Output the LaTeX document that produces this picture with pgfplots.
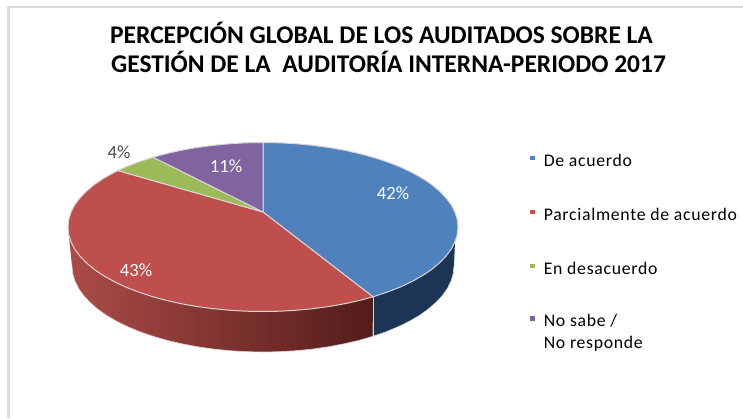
\documentclass[border=0pt]{standalone}
\usepackage{pgfplots}
\pgfplotsset{compat=1.18}
\usepackage{fontspec}
\setmainfont{Carlito}
\newfontfamily\legf[LetterSpace=4]{Carlito}
\definecolor{bl}{HTML}{4F81BD}
\definecolor{rd}{HTML}{BE4F4C}
\definecolor{gr}{HTML}{9BBB59}
\definecolor{pu}{HTML}{8064A2}
\definecolor{rim}{HTML}{DAD5D5}
\definecolor{frame}{HTML}{DCDCDC}
\definecolor{bside}{HTML}{1C3555}
\definecolor{rsa}{HTML}{AC4B47}
\definecolor{rsb}{HTML}{7D2F2D}
\definecolor{rsc}{HTML}{531C1A}
\begin{document}
\begin{tikzpicture}
\useasboundingbox (0,0) rectangle (557.25pt,313.5pt);
\begin{axis}[
  at={(0,0)}, anchor=south west,
  scale only axis, width=557.25pt, height=313.5pt,
  xmin=0, xmax=743, ymin=0, ymax=418, y dir=reverse,
  hide axis, clip=false,
  legend style={at={(rel axis cs:0.7135,0.6315)}, anchor=north west, draw=none, fill=none,
    row sep=29.8pt, column sep=6.5pt, font=\legf\fontsize{13.3}{16.5}\selectfont, inner sep=0pt,
    nodes={inner sep=0pt}},
  legend cell align=left,
]
% frame
\addplot[frame, line width=1.6pt, forget plot] coordinates {(743,7) (8.5,7) (8.5,418)};
% blue side
\addplot[fill=bside, draw=none, forget plot] coordinates {
(455,241.7)(451.4,248.9)(446.2,255.9)(439.7,262.7)(431.9,269.3)(422.7,275.5)(412.4,281.3)(400.9,286.8)(388.3,291.7)(374.9,296.2)(373,296.8)
(372.6,336.4)(385.8,331.9)(398.1,326.8)(409.3,321.3)(419.5,315.4)(428.4,309)(436.1,302.3)(442.5,295.4)(447.5,288.3)(451.1,280.9)(453.3,273.5)(454,266)} --cycle;
% red side
\addplot[left color=rsa, middle color=rsb, right color=rsc, draw=none, forget plot] coordinates {
(373,296.8)(360.5,300.2)(345.4,303.6)(329.7,306.4)(313.5,308.6)(296.9,310.2)(280,311.2)(263,311.5)(246,311.2)(229.1,310.2)(212.5,308.6)(196.3,306.4)(180.6,303.6)(165.5,300.2)(151.1,296.2)(137.7,291.7)(125.1,286.8)(113.6,281.3)(103.3,275.5)(94.1,269.3)(86.3,262.7)(79.8,255.9)(74.6,248.9)(71,241.7)(68.7,234.4)
(72,266)(72.7,273.5)(74.9,280.9)(78.5,288.3)(83.5,295.4)(89.9,302.3)(97.6,309)(106.5,315.4)(116.7,321.3)(127.9,326.8)(140.2,331.9)(153.4,336.4)(167.5,340.5)(182.3,343.9)(197.7,346.8)(213.5,349.1)(229.8,350.7)(246.3,351.7)(263,352)(279.7,351.7)(296.2,350.7)(312.5,349.1)(328.3,346.8)(343.7,343.9)(358.5,340.5)(372.6,336.4)} --cycle;
% seam
\addplot[rim, line width=0.75pt, forget plot] coordinates {(373,296.8)(373,335.5)};
% bottom rim
\addplot[rim, line width=0.5pt, forget plot] coordinates {(454,266)(453.3,273.5)(451.1,280.9)(447.5,288.3)(442.5,295.4)(436.1,302.3)(428.4,309)(419.5,315.4)(409.3,321.3)(398.1,326.8)(385.8,331.9)(372.6,336.4)(358.5,340.5)(343.7,343.9)(328.3,346.8)(312.5,349.1)(296.2,350.7)(279.7,351.7)(263,352)(246.3,351.7)(229.8,350.7)(213.5,349.1)(197.7,346.8)(182.3,343.9)(167.5,340.5)(153.4,336.4)(140.2,331.9)(127.9,326.8)(116.7,321.3)(106.5,315.4)(97.6,309)(89.9,302.3)(83.5,295.4)(78.5,288.3)(74.9,280.9)(72.7,273.5)(72,266)};
% tops
\addplot[fill=bl, draw=rim, line width=0.75pt, line join=round,
  /pgfplots/legend image code/.code={\fill[bl] (0pt,1.2pt) rectangle (2.8pt,4pt);}] coordinates {
(263,212)(263,142.5)(280,142.8)(296.9,143.8)(313.5,145.4)(329.7,147.6)(345.4,150.4)(360.5,153.8)(374.9,157.8)(388.3,162.3)(400.9,167.2)(412.4,172.7)(422.7,178.5)(431.9,184.7)(439.7,191.3)(446.2,198.1)(451.4,205.1)(455,212.3)(457.3,219.6)(458,227)(457.3,234.4)(455,241.7)(451.4,248.9)(446.2,255.9)(439.7,262.7)(431.9,269.3)(422.7,275.5)(412.4,281.3)(400.9,286.8)(388.3,291.7)(374.9,296.2)(373,296.8)} --cycle;
\addlegendentry{De acuerdo}
\addplot[fill=rd, draw=rim, line width=0.75pt, line join=round,
  /pgfplots/legend image code/.code={\fill[rd] (0pt,1.2pt) rectangle (2.8pt,4pt);}] coordinates {
(263,212)(373,296.8)(360.5,300.2)(345.4,303.6)(329.7,306.4)(313.5,308.6)(296.9,310.2)(280,311.2)(263,311.5)(246,311.2)(229.1,310.2)(212.5,308.6)(196.3,306.4)(180.6,303.6)(165.5,300.2)(151.1,296.2)(137.7,291.7)(125.1,286.8)(113.6,281.3)(103.3,275.5)(94.1,269.3)(86.3,262.7)(79.8,255.9)(74.6,248.9)(71,241.7)(68.7,234.4)(68,227)(68.7,219.6)(71,212.3)(74.6,205.1)(79.8,198.1)(86.3,191.3)(94.1,184.7)(103.3,178.5)(113.6,172.7)(118,170.6)} --cycle;
\addlegendentry{Parcialmente de acuerdo}
\addplot[fill=gr, draw=rim, line width=0.75pt, line join=round,
  /pgfplots/legend image code/.code={\fill[gr] (0pt,1.2pt) rectangle (2.8pt,4pt);}] coordinates {
(263,212)(118,170.6)(125.1,167.2)(137.7,162.3)(151.1,157.8)(153,157.2)} --cycle;
\addlegendentry{En desacuerdo}
\addplot[fill=pu, draw=rim, line width=0.75pt, line join=round,
  /pgfplots/legend image code/.code={\fill[pu] (0pt,1.2pt) rectangle (2.8pt,4pt);}] coordinates {
(263,212)(153,157.2)(165.5,153.8)(180.6,150.4)(196.3,147.6)(212.5,145.4)(229.1,143.8)(246,142.8)(263,142.5)} --cycle;
\addlegendentry{\raisebox{0pt}[0.55em][0pt]{\begin{tabular}[t]{@{}l@{}}No sabe /\\No responde\end{tabular}}}
% labels
\node[white, font=\fontsize{14}{14}\selectfont] at (axis cs:393,193) {42\%};
\node[white, font=\fontsize{14}{14}\selectfont] at (axis cs:226,166) {11\%};
\node[white, font=\fontsize{14}{14}\selectfont] at (axis cs:136,270) {43\%};
\node[black!70, font=\fontsize{14}{14}\selectfont] at (axis cs:119,152) {4\%};
% title
\node[font=\bfseries\fontsize{19.1}{21.7}\selectfont, text=black] at (axis cs:381.5,33) {PERCEPCIÓN GLOBAL DE LOS AUDITADOS SOBRE LA};
\node[font=\bfseries\fontsize{19.1}{21.7}\selectfont, text=black] at (axis cs:388.5,62) {GESTIÓN DE LA\ \ AUDITORÍA INTERNA-PERIODO 2017};
\end{axis}
\end{tikzpicture}
\end{document}
